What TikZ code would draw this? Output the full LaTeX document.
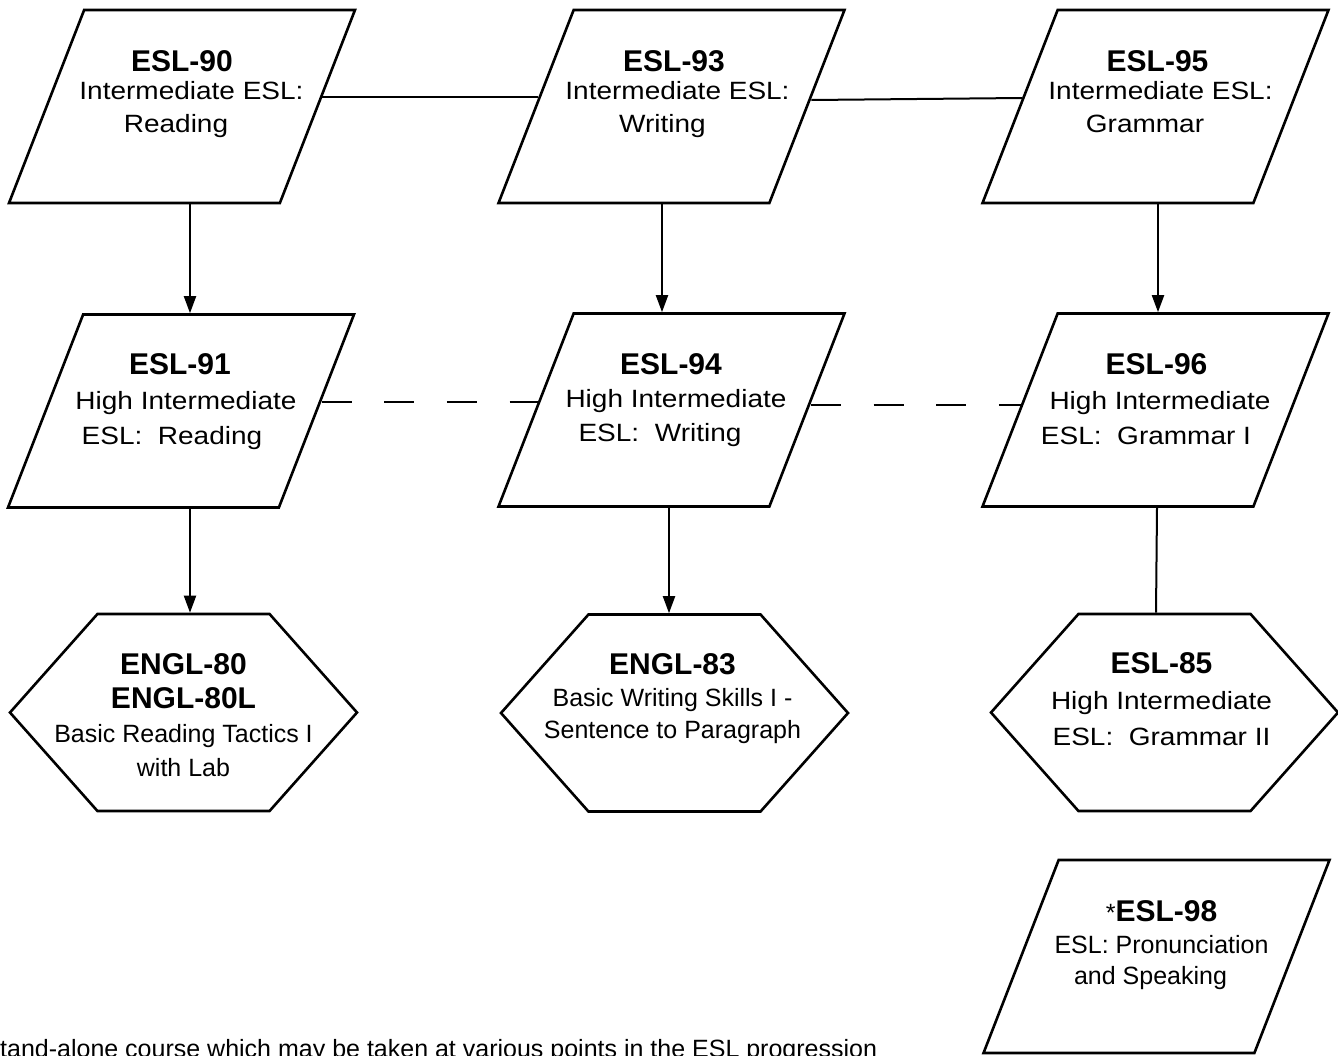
\documentclass[tikz,border=0pt]{standalone}
\usepackage{fontspec}
\setmainfont{Liberation Sans}
\newfontfamily\widefont[FakeStretch=1.12]{Liberation Sans}
\usetikzlibrary{arrows.meta,shapes.geometric,shapes.symbols}
\newcommand{\coursecode}[1]{{\rmfamily\bfseries\fontsize{30}{30}\selectfont #1}}

\begin{document}
\begin{tikzpicture}
	[x=1pt, y=-1pt,
	para/.style={trapezium, trapezium left angle=69, trapezium right angle=111, trapezium stretches=true,
		draw, line width=2.6pt, minimum width=346pt, minimum height=193pt, inner sep=2pt},
	hexa/.style={signal, signal to=east and west, signal pointer angle=96.8,
		draw, line width=2.6pt, minimum width=347pt, minimum height=197pt, inner sep=2pt},
	txt/.style={anchor=north, align=center, inner sep=0, font=\widefont\fontsize{25}{#1}\selectfont},
	txtn/.style={anchor=north, align=center, inner sep=0, font=\fontsize{25}{#1}\selectfont},
	post/.style={-{Triangle[length=17pt, width=12pt]}, line width=2pt},
	link/.style={line width=2pt},
	linkdash/.style={line width=2.4pt, dash pattern=on 30pt off 32.7pt}]
	\useasboundingbox (0,0) rectangle (1338,1055);
	% first row
	\node (esl90) [para] at (182,106.5) {};
	\node (esl93) [para] at (671.5,106.5) {};
	\node (esl95) [para] at (1155.5,106.5) {};
	\node (esl90t) [txt=33] at (182,50.5) {\coursecode{ESL-90}\\[-5pt]\hspace*{19pt}Intermediate ESL:\\Reading\hspace*{12pt}};
	\node (esl93t) [txt=33] at (674,50.5) {\coursecode{ESL-93}\\[-5pt]\hspace*{7pt}Intermediate ESL:\\Writing\hspace*{23pt}};
	\node (esl95t) [txt=33] at (1157.5,50.5) {\coursecode{ESL-95}\\[-5pt]\hspace*{6pt}Intermediate ESL:\\Grammar\hspace*{25pt}};
	% second row
	\node (esl91) [para] at (181,411) {};
	\node (esl94) [para] at (671.5,410) {};
	\node (esl96) [para] at (1155.5,410) {};
	\node (esl91t) [txt=35] at (180,353.5) {\coursecode{ESL-91}\\\hspace*{12pt}High Intermediate\\ESL:\ \ Reading\hspace*{16pt}};
	\node (esl94t) [txt=34] at (671,353.5) {\coursecode{ESL-94}\\[-1pt]\hspace*{10pt}High Intermediate\\ESL:\ \ Writing\hspace*{22pt}};
	\node (esl96t) [txt=35] at (1156.5,353.5) {\coursecode{ESL-96}\\\hspace*{7pt}High Intermediate\\ESL:\ \ Grammar I\hspace*{21pt}};
	% third row
	\node (engl80) [hexa] at (183.5,712.5) {};
	\node (engl83) [hexa] at (674.5,713) {};
	\node (esl85) [hexa] at (1164.5,712.5) {};
	\node (engl80t) [txtn=34] at (183.5,653.5) {\coursecode{ENGL-80}\\\coursecode{ENGL-80L}\\Basic Reading Tactics I\\with Lab};
	\node (engl83t) [txtn=32] at (672.5,653.5) {\coursecode{ENGL-83}\\Basic Writing Skills I -\\Sentence to Paragraph};
	\node (esl85t) [txt=36] at (1161.5,652.5) {\coursecode{ESL-85}\\High Intermediate\\ESL:\ \ Grammar II};
	% stand-alone course
	\node (esl98) [para] at (1156.5,956.5) {};
	\node (esl98t) [txtn=31.5] at (1161.5,900.5) {*\coursecode{ESL-98}\\ESL: Pronunciation\\and Speaking\hspace*{22pt}};
	\node (note) [anchor=base west, inner sep=0, font=\fontsize{25}{30}\selectfont] at (0,1057)
		{tand-alone course which may be taken at various points in the ESL progression};
	% connectors
	\draw [link] ([shift={(3.6pt,9.5pt)}]esl90.east) -- ([shift={(3.5pt,9.5pt)}]esl93.west);
	\draw [link] ([shift={(3.1pt,6.5pt)}]esl93.east) -- ([shift={(3.3pt,8.5pt)}]esl95.west);
	\draw [linkdash] ([shift={(3.7pt,9pt)}]esl91.east) -- ([shift={(3.5pt,8pt)}]esl94.west);
	\draw [linkdash] ([shift={(2.5pt,5pt)}]esl94.east) -- ([shift={(2pt,5pt)}]esl96.west);
	\draw [post] ([xshift=8]esl90.south) -- ([xshift=8]esl90.south |- esl91.north);
	\draw [post] ([xshift=-9.5]esl93.south) -- ([xshift=-9.5]esl93.south |- esl94.north);
	\draw [post] ([xshift=2.5]esl95.south) -- ([xshift=2.5]esl95.south |- esl96.north);
	\draw [post] ([xshift=9]esl91.south) -- ([xshift=9]esl91.south |- engl80.north);
	\draw [post] ([xshift=-2.5]esl94.south) -- ([xshift=-2.5]esl94.south |- engl83.north);
	\draw [link] ([xshift=1.5]esl96.south) -- ([xshift=-8.5]esl85.north);
\end{tikzpicture}
\end{document}
